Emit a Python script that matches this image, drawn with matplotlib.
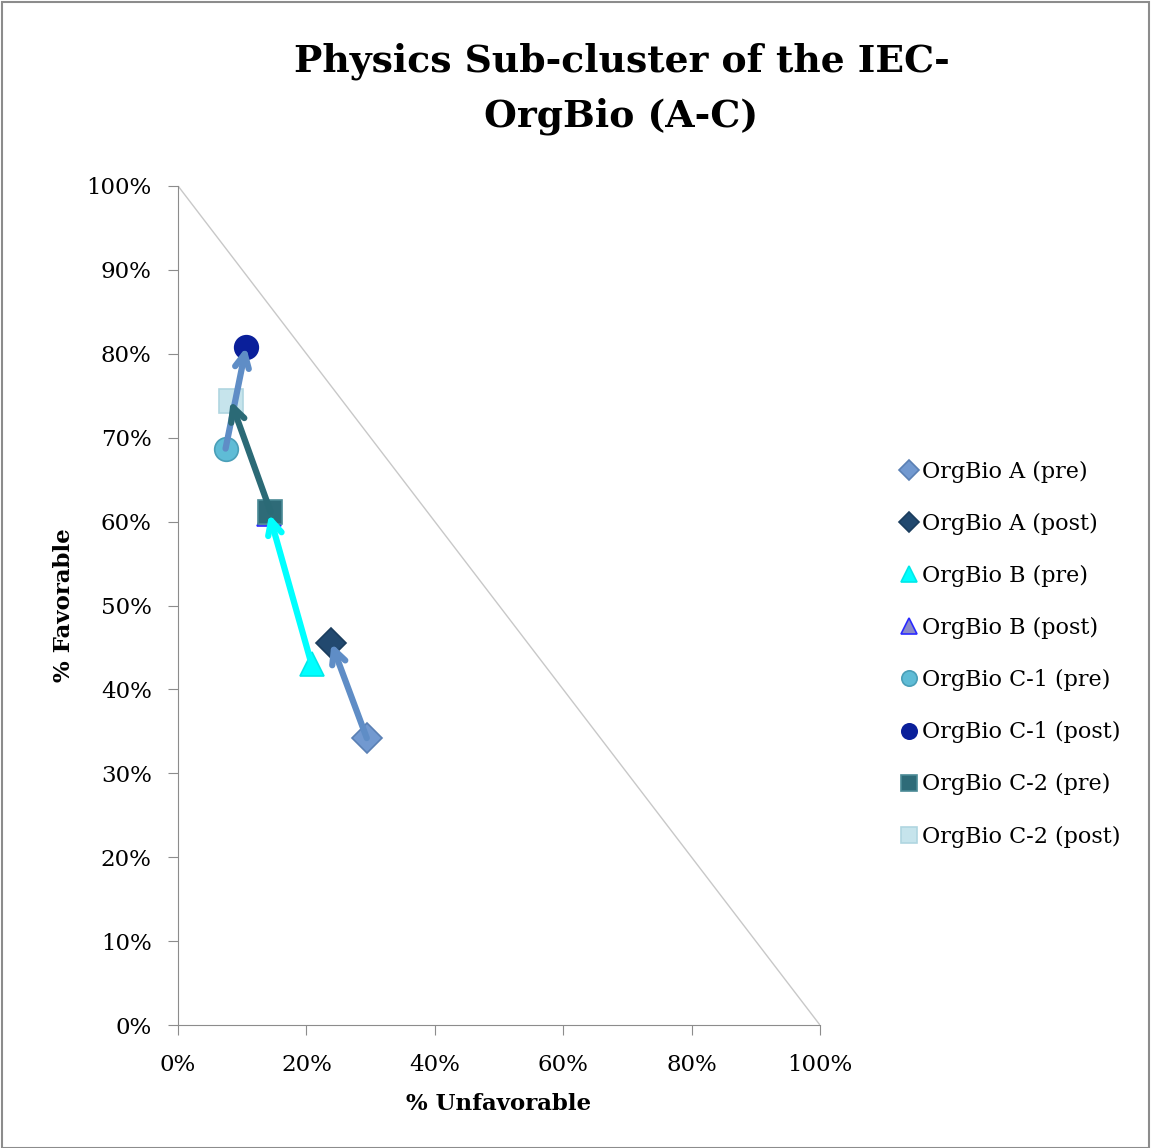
import matplotlib.pyplot as plt
from matplotlib.patches import Rectangle

# Values (in %)
series = ["OrgBio A (pre)", "OrgBio A (post)", "OrgBio B (pre)", "OrgBio B (post)",
          "OrgBio C-1 (pre)", "OrgBio C-1 (post)", "OrgBio C-2 (pre)", "OrgBio C-2 (post)"]
unfavorable = [29.4, 23.9, 20.8, 14.2, 7.4, 10.6, 14.4, 8.2]
favorable = [34.2, 45.5, 43.0, 60.9, 68.7, 80.8, 61.2, 74.4]

# pre -> post arrows
arrow_pairs = [(0, 1), (2, 3), (4, 5), (6, 7)]
ARROW_COLORS = ["#5f8dc6", "#00ffff", "#5f8dc6", "#2b6a76"]

MARKERS = ["D", "D", "^", "^", "o", "o", "s", "s"]
FACE = ["#7299d0", "#22496f", "#00ffff", "#8a8ac8", "#5fbcd6", "#0a1f9a", "#2e6b78", "#c6e4ec"]
EDGE = ["#5a80b4", "#1b3d5e", "#00e8e8", "#2a2aff", "#4a9fb8", "#0a1f9a", "#4a8a96", "#b0d6e0"]
SIZES = [15, 15, 17, 17, 17, 17, 17, 17]

FONT = "DejaVu Serif"

fig = plt.figure(figsize=[11.51, 11.48], dpi=100)
fig.patches.append(Rectangle((0.002, 0.0), 0.996, 0.998, transform=fig.transFigure,
                             fill=False, edgecolor="#8c8c8c", linewidth=1.5))
ax = fig.add_axes([0.1547, 0.1071, 0.5577, 0.7309])

# diagonal boundary
ax.plot([0, 100], [100, 0], color="#c8c8c8", linewidth=1, zorder=1)

for i, name in enumerate(series):
    ax.plot(unfavorable[i], favorable[i], linestyle="none", marker=MARKERS[i],
            markersize=SIZES[i], markerfacecolor=FACE[i], markeredgecolor=EDGE[i],
            markeredgewidth=1.2, label=name, zorder=3)

for (a, b), c in zip(arrow_pairs, ARROW_COLORS):
    ax.annotate("", xy=(unfavorable[b], favorable[b]), xytext=(unfavorable[a], favorable[a]),
                arrowprops=dict(arrowstyle="->,head_length=1.0,head_width=0.5", color=c,
                                linewidth=4.5, shrinkA=0, shrinkB=0), zorder=4)

ax.set_xlim(0, 100)
ax.set_ylim(0, 100)
ax.set_xticks(range(0, 101, 20))
ax.set_yticks(range(0, 101, 10))
ax.set_xticklabels([str(v) + "%" for v in range(0, 101, 20)], fontfamily=FONT, fontsize=16.5)
ax.set_yticklabels([str(v) + "%" for v in range(0, 101, 10)], fontfamily=FONT, fontsize=16.5)
ax.tick_params(axis="y", direction="out", length=7, color="#8c8c8c", pad=12)
ax.tick_params(axis="x", direction="out", length=7, color="#8c8c8c", pad=14)
ax.spines["top"].set_visible(False)
ax.spines["right"].set_visible(False)
ax.spines["left"].set_color("#8c8c8c")
ax.spines["bottom"].set_color("#8c8c8c")

ax.set_xlabel("% Unfavorable", fontfamily=FONT, fontsize=16.5, fontweight="bold", labelpad=12)
ax.set_ylabel("% Favorable", fontfamily=FONT, fontsize=16.5, fontweight="bold", labelpad=8)

fig.text(0.54, 0.923, "Physics Sub-cluster of the IEC-\nOrgBio (A-C)", ha="center", va="center",
         fontfamily=FONT, fontsize=27.2, fontweight="bold", linespacing=1.6)

leg = ax.legend(loc="center left", bbox_to_anchor=(1.09, 0.442), frameon=False,
                prop={"family": FONT, "size": 16}, labelspacing=1.35,
                handletextpad=0.1, handlelength=1.0, markerscale=0.65)

plt.savefig("out.png", dpi=100)
